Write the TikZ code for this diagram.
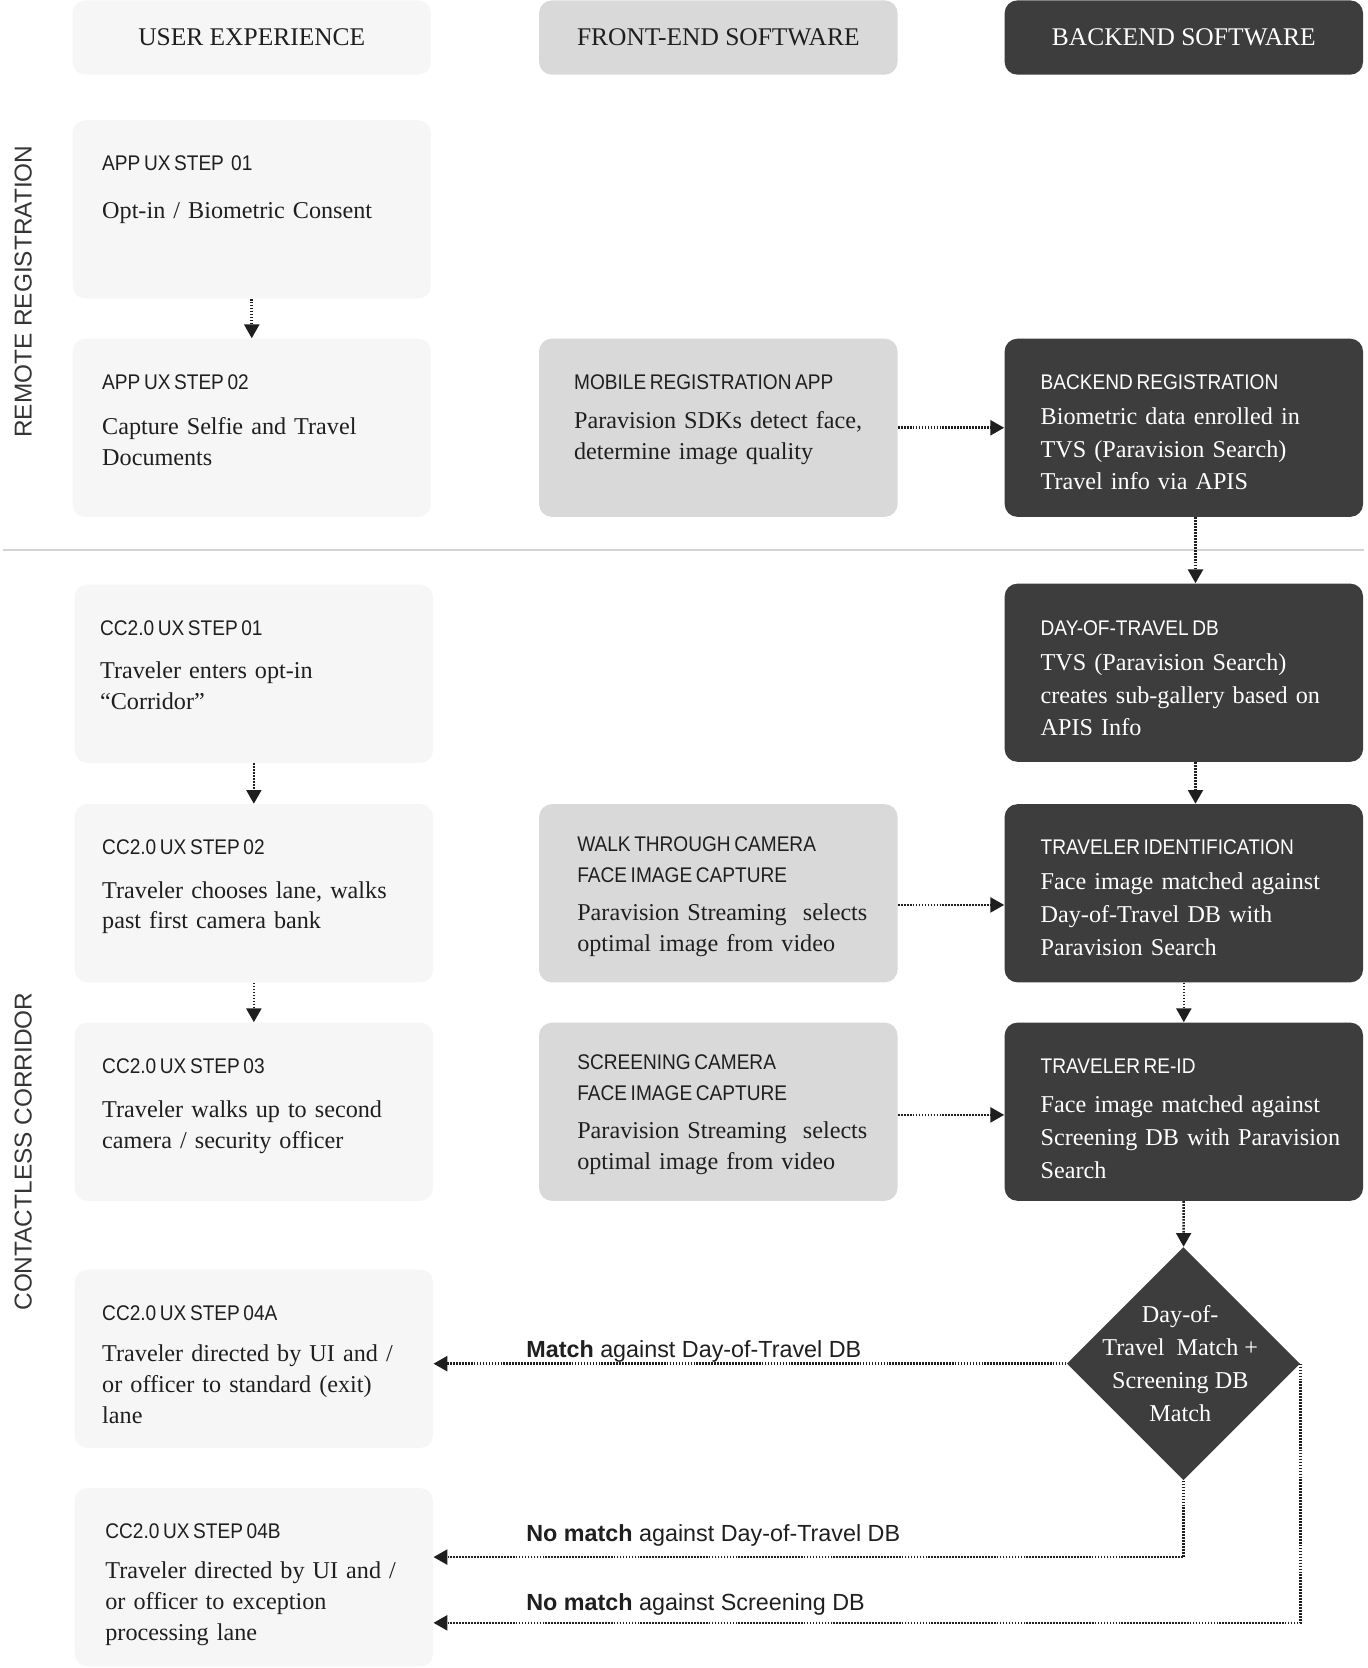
\documentclass[tikz,border=0pt]{standalone}
\usepackage{fontspec}
\setmainfont{Liberation Serif}
\newfontfamily\labelfont{Liberation Sans}[FakeStretch=0.9]
\newfontfamily\sansfont{Liberation Sans}
\usetikzlibrary{arrows.meta,shapes.geometric,positioning}
\definecolor{uxgray}{HTML}{F6F6F6}
\definecolor{fegray}{HTML}{D9D9D9}
\definecolor{begray}{HTML}{3D3D3D}
\definecolor{ink}{HTML}{1F1F1F}
\definecolor{rulegray}{HTML}{D3D3D3}
\newcommand{\steplabel}[1]{{\labelfont\fontsize{10pt}{14.5pt}\selectfont\spaceskip=0.17em plus 0.05em\relax #1}}

\begin{document}
\begin{tikzpicture}[x=0.5pt,y=-0.5pt,
  stepbox/.style={rectangle,rounded corners=6pt,minimum width=169pt,minimum height=84pt,inner sep=0pt,anchor=north west},
  uxbox/.style={stepbox,fill=uxgray},
  febox/.style={stepbox,fill=fegray},
  bebox/.style={stepbox,fill=begray},
  headbox/.style={minimum height=35pt,text=ink,font=\fontsize{12pt}{14pt}\selectfont},
  steptext/.style={anchor=base west,inner sep=0pt,align=left,text width=170pt,text=ink,font=\fontsize{11.4pt}{14.5pt}\selectfont},
  betext/.style={steptext,text=white,font=\fontsize{11.4pt}{15.5pt}\selectfont},
  flow/.style={draw=ink,line width=1.2pt,dash pattern=on 0.8pt off 0.6pt,-{Triangle[width=7pt,length=6.5pt]}},
  flowlabel/.style={anchor=base west,inner sep=0pt,text=ink,font=\sansfont\fontsize{11pt}{13pt}\selectfont},
  sidelabel/.style={rotate=90,inner sep=0pt,text=ink!90,font=\sansfont\fontsize{11.5pt}{13pt}\selectfont},
  decision/.style={diamond,fill=begray,minimum width=110pt,minimum height=110pt,inner sep=0pt}]
\fill[white] (0,0) rectangle (1290,1573);
\useasboundingbox (0,0) rectangle (1290,1573);

% column heads
\node[uxbox,headbox] (hux) at (68,0) {USER EXPERIENCE};
\node[febox,headbox] (hfe) at (508,0) {FRONT-END SOFTWARE};
\node[bebox,headbox,text=white] (hbe) at (947,0) {BACKEND SOFTWARE};

% lanes
\node[sidelabel] (remote) at (22,275) {REMOTE REGISTRATION};
\node[sidelabel] (corridor) at (22,1086) {CONTACTLESS CORRIDOR};
\draw[rulegray,line width=1pt] (3,519) -- (1286,519);

% remote registration
\node[uxbox] (ux1) at (68,113) {};
\node[steptext] (ux1t) at ([shift={(28,48)}]ux1.north west) {\steplabel{APP UX STEP~ 01}\\[8pt]Opt-in / Biometric Consent};
\node[uxbox] (ux2) at (68,319) {};
\node[steptext] (ux2t) at ([shift={(28,48)}]ux2.north west) {\steplabel{APP UX STEP 02}\\[7pt]Capture Selfie and Travel\\Documents};
\node[febox] (mob) at (508,319) {};
\node[steptext] (mobt) at ([shift={(33,48)}]mob.north west) {\steplabel{MOBILE REGISTRATION APP}\\[4pt]Paravision SDKs detect face,\\determine image quality};
\node[bebox] (bereg) at (947,319) {};
\node[betext] (beregt) at ([shift={(34,48)}]bereg.north west) {\steplabel{BACKEND REGISTRATION}\\[1pt]Biometric data enrolled in\\TVS (Paravision Search)\\Travel info via APIS};

% contactless corridor
\node[uxbox] (cc1) at (70,551) {};
\node[steptext] (cc1t) at ([shift={(24,48)}]cc1.north west) {\steplabel{CC2.0 UX STEP 01}\\[6pt]Traveler enters opt-in\\“Corridor”};
\node[bebox] (dot) at (947,550) {};
\node[betext] (dott) at ([shift={(34,49)}]dot.north west) {\steplabel{DAY-OF-TRAVEL DB}\\[1pt]TVS (Paravision Search)\\creates sub-gallery based on\\APIS Info};

\node[uxbox] (cc2) at (70,758) {};
\node[steptext] (cc2t) at ([shift={(26,48)}]cc2.north west) {\steplabel{CC2.0 UX STEP 02}\\[6pt]Traveler chooses lane, walks\\past first camera bank};
\node[febox] (walk) at (508,758) {};
\node[steptext] (walkt) at ([shift={(36,45)}]walk.north west) {\steplabel{WALK THROUGH CAMERA\\FACE IMAGE CAPTURE}\\[3.5pt]Paravision Streaming~ selects\\optimal image from video};
\node[bebox] (tid) at (947,758) {};
\node[betext] (tidt) at ([shift={(34,48)}]tid.north west) {\steplabel{TRAVELER IDENTIFICATION}\\[1pt]Face image matched against\\Day-of-Travel DB with\\Paravision Search};

\node[uxbox] (cc3) at (70,964) {};
\node[steptext] (cc3t) at ([shift={(26,48)}]cc3.north west) {\steplabel{CC2.0 UX STEP 03}\\[6.5pt]Traveler walks up to second\\camera / security officer};
\node[febox] (scr) at (508,964) {};
\node[steptext] (scrt) at ([shift={(36,45)}]scr.north west) {\steplabel{SCREENING CAMERA\\FACE IMAGE CAPTURE}\\[3.5pt]Paravision Streaming~ selects\\optimal image from video};
\node[bebox] (reid) at (947,964) {};
\node[betext] (reidt) at ([shift={(34,48)}]reid.north west) {\steplabel{TRAVELER RE-ID}\\[3pt]Face image matched against\\Screening DB with Paravision\\Search};

\node[decision] (match) at (1116,1286) {};
\node[text=white,align=center,inner sep=0pt,font=\fontsize{11.4pt}{15.5pt}\selectfont] (matcht) at ([xshift=-1.5pt]match.center) {Day-of-\\Travel~ Match +\\Screening DB\\Match};

\node[uxbox] (cc4a) at (70,1197) {};
\node[steptext] (cc4at) at ([shift={(26,48)}]cc4a.north west) {\steplabel{CC2.0 UX STEP 04A}\\[5pt]Traveler directed by UI and /\\or officer to standard (exit)\\lane};
\node[uxbox] (cc4b) at (70,1403) {};
\node[steptext] (cc4bt) at ([shift={(29,48)}]cc4b.north west) {\steplabel{CC2.0 UX STEP 04B}\\[4.5pt]Traveler directed by UI and /\\or officer to exception\\processing lane};

% connectors
\draw[flow] (ux1) -- (ux2);
\draw[flow] (mob) -- (bereg);
\draw[flow] ([xshift=5.5pt]bereg.south) -- ([xshift=5.5pt]dot.north);
\draw[flow] (cc1) -- (cc2);
\draw[flow] ([xshift=5.5pt]dot.south) -- ([xshift=5.5pt]tid.north);
\draw[flow] ([yshift=-5.5pt]walk.east) -- ([yshift=-5.5pt]tid.west);
\draw[flow] (cc2) -- (cc3);
\draw[flow] (tid) -- (reid);
\draw[flow] ([yshift=-1.5pt]scr.east) -- ([yshift=-1.5pt]reid.west);
\draw[flow] (reid) -- (match);
\draw[flow] (match.west) -- (match.west -| cc4a.east);
\draw[flow] (match.south) |- ([yshift=9.5pt]cc4b.east);
\draw[flow] (match.east) |- ([yshift=-21.5pt]cc4b.east);
\node[flowlabel] (lblmatch) at (496,1280) {\textbf{Match} against Day-of-Travel DB};
\node[flowlabel] (lblnodot) at (496,1454) {\textbf{No match} against Day-of-Travel DB};
\node[flowlabel] (lblnoscr) at (496,1519) {\textbf{No match} against Screening DB};
\end{tikzpicture}
\end{document}
